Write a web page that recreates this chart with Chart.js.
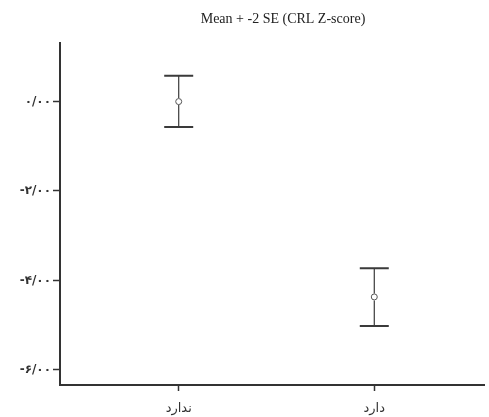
<!DOCTYPE html>
<html>
<head>
<meta charset="utf-8">
<script src="https://cdn.jsdelivr.net/npm/chart.js@4"></script>
<style>
  html, body { margin: 0; padding: 0; background: #fff; overflow: hidden; }
</style>
</head>
<body>
<canvas id="seChart" width="489" height="417"></canvas>
<script>
var categories = ['ندارد', 'دارد'];
var catPositions = [1, 2];
var means = [0.0, -4.37];
var upper = [0.58, -3.73];
var lower = [-0.57, -5.02];
var yTicks = [0, -2, -4, -6];
var titleText = 'Mean + -2 SE (CRL Z-score)';

var persianDigits = '۰۱۲۳۴۵۶۷۸۹';
function toPersian(v) {
    return v.toFixed(2).replace(/[0-9]/g, function (d) {
        return persianDigits[+d];
    }).replace('.', '/');
}

var points = catPositions.map(function (x, i) {
    return { x: x, y: means[i] };
});

// error bars drawn from the arrays through the chart scales
var errorBars = {
    id: 'errorBars',
    afterDatasetsDraw: function (chart) {
        var ctx = chart.ctx;
        var xs = chart.scales.x, ys = chart.scales.y;
        ctx.save();
        ctx.strokeStyle = '#3a3a3a';
        catPositions.forEach(function (x, i) {
            var px = xs.getPixelForValue(x);
            var pTop = ys.getPixelForValue(upper[i]);
            var pBot = ys.getPixelForValue(lower[i]);
            var pMid = ys.getPixelForValue(means[i]);
            ctx.lineWidth = 1.2;
            ctx.beginPath();
            ctx.moveTo(px, pTop);
            ctx.lineTo(px, pMid - 3.5);
            ctx.moveTo(px, pMid + 3.5);
            ctx.lineTo(px, pBot);
            ctx.stroke();
            ctx.lineWidth = 2;
            ctx.beginPath();
            ctx.moveTo(px - 14.5, pTop);
            ctx.lineTo(px + 14.5, pTop);
            ctx.moveTo(px - 14.5, pBot);
            ctx.lineTo(px + 14.5, pBot);
            ctx.stroke();
        });
        ctx.restore();
    }
};

var titlePlugin = {
    id: 'offsetTitle',
    afterDraw: function (chart) {
        var ctx = chart.ctx;
        ctx.save();
        ctx.font = '14px "Liberation Serif", "Times New Roman", serif';
        ctx.fillStyle = '#222';
        ctx.textAlign = 'center';
        ctx.textBaseline = 'middle';
        ctx.fillText(titleText, 283, 19);
        ctx.restore();
    }
};

var ctx = document.getElementById('seChart').getContext('2d');
var seChart = new Chart(ctx, {
    type: 'scatter',
    data: {
        datasets: [{
            data: points,
            pointStyle: 'circle',
            pointRadius: 3,
            pointBorderWidth: 1,
            pointBorderColor: '#555',
            pointBackgroundColor: '#fff'
        }]
    },
    options: {
        responsive: false,
        animation: false,
        layout: { padding: { top: 43, right: 0, left: 0, bottom: 0 } },
        plugins: {
            legend: { display: false },
            tooltip: { enabled: false },
            title: { display: false }
        },
        scales: {
            x: {
                type: 'linear',
                min: 0.393,
                max: 2.561,
                afterBuildTicks: function (scale) {
                    scale.ticks = catPositions.map(function (v) { return { value: v }; });
                },
                afterFit: function (scale) {
                    scale.height = 32;
                    scale.paddingLeft = 0;
                    scale.paddingRight = 0;
                },
                grid: { drawOnChartArea: false, drawTicks: true, tickLength: 6, tickColor: '#333', tickWidth: 1.5 },
                border: { display: true, color: '#333', width: 2 },
                ticks: {
                    padding: 10,
                    color: '#333',
                    font: { family: '"DejaVu Sans", sans-serif', size: 13 },
                    callback: function (v) {
                        var i = catPositions.indexOf(v);
                        return i >= 0 ? categories[i] : '';
                    }
                }
            },
            y: {
                min: -6.34,
                max: 1.31,
                afterBuildTicks: function (scale) {
                    scale.ticks = yTicks.map(function (v) { return { value: v }; });
                },
                afterFit: function (scale) {
                    scale.width = 60;
                    scale.paddingTop = 0;
                    scale.paddingBottom = 0;
                },
                grid: { drawOnChartArea: false, drawTicks: true, tickLength: 7, tickColor: '#333', tickWidth: 1.5 },
                border: { display: true, color: '#333', width: 2 },
                ticks: {
                    padding: 2,
                    color: '#333',
                    font: { family: '"DejaVu Sans", sans-serif', size: 12, weight: 'bold' },
                    callback: function (v) { return toPersian(v); }
                }
            }
        }
    },
    plugins: [errorBars, titlePlugin]
});
</script>
</body>
</html>
